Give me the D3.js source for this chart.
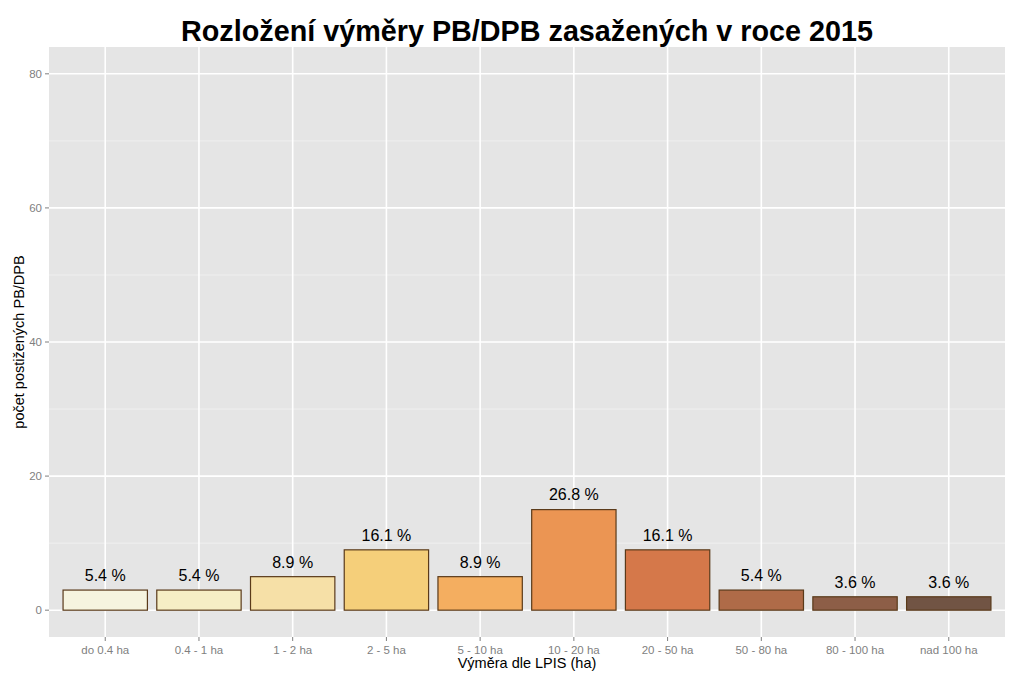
<!DOCTYPE html>
<html><head><meta charset="utf-8">
<script src="https://cdn.jsdelivr.net/npm/d3@7/dist/d3.min.js"></script>
<style>body{margin:0;background:#fff;} svg{display:block;font-family:"Liberation Sans",Arial,sans-serif;}</style>
</head><body>
<script>
const categories = ["do 0.4 ha","0.4 - 1 ha","1 - 2 ha","2 - 5 ha","5 - 10 ha","10 - 20 ha","20 - 50 ha","50 - 80 ha","80 - 100 ha","nad 100 ha"];
const counts = [3,3,5,9,5,15,9,3,2,2];
const percentLabels = ["5.4 %","5.4 %","8.9 %","16.1 %","8.9 %","26.8 %","16.1 %","5.4 %","3.6 %","3.6 %"];
const barColors = ["#F6F4DF","#F6EEC5","#F6E0A7","#F5CF7A","#F4AE60","#EB9553","#D5784A","#AF6B48","#8D5E47","#715444"];
const yTicks = [0,20,40,60,80];
const yMinor = [10,30,50,70];
const title = "Rozložení výměry PB/DPB zasažených v roce 2015";
const xTitle = "Výměra dle LPIS (ha)";
const yTitle = "počet postižených PB/DPB";

const W=1023,H=682;
const m={left:49,right:1005,top:47,bottom:637};
const svg=d3.select("body").append("svg").attr("width",W).attr("height",H);

// discrete scale with 0.6-unit expansion on each side, bar width 0.9 of step
const x=d3.scalePoint().domain(categories).range([m.left,m.right]).padding(0.6);
const step=x.step();
const bw=step*0.9;
const y=d3.scaleLinear().domain([-4,84]).range([m.bottom,m.top]);

svg.append("rect").attr("x",m.left).attr("y",m.top).attr("width",m.right-m.left).attr("height",m.bottom-m.top).attr("fill","#E5E5E5");
svg.selectAll(".ymin").data(yMinor).enter().append("line")
 .attr("x1",m.left).attr("x2",m.right).attr("y1",d=>y(d)).attr("y2",d=>y(d)).attr("stroke","#F2F2F2").attr("stroke-width",0.8);
svg.selectAll(".ymaj").data(yTicks).enter().append("line")
 .attr("x1",m.left).attr("x2",m.right).attr("y1",d=>y(d)).attr("y2",d=>y(d)).attr("stroke","#fff").attr("stroke-width",1.6);
svg.selectAll(".xmaj").data(categories).enter().append("line")
 .attr("x1",d=>x(d)).attr("x2",d=>x(d)).attr("y1",m.top).attr("y2",m.bottom).attr("stroke","#fff").attr("stroke-width",1.6);

svg.selectAll(".bar").data(categories).enter().append("rect")
 .attr("x",d=>x(d)-bw/2).attr("width",bw)
 .attr("y",(d,i)=>y(counts[i])).attr("height",(d,i)=>y(0)-y(counts[i]))
 .attr("fill",(d,i)=>barColors[i]).attr("stroke","#5A3A1A").attr("stroke-width",1.2);

svg.selectAll(".lab").data(categories).enter().append("text")
 .attr("x",d=>x(d)).attr("y",(d,i)=>y(counts[i]+2.2)).attr("dy","0.35em")
 .attr("text-anchor","middle").attr("font-size",16).attr("fill","#000").text((d,i)=>percentLabels[i]);

// y axis
const ya=svg.append("g");
ya.selectAll("line").data(yTicks).enter().append("line")
 .attr("x1",m.left-4).attr("x2",m.left).attr("y1",d=>y(d)).attr("y2",d=>y(d)).attr("stroke","#7F7F7F").attr("stroke-width",1);
ya.selectAll("text").data(yTicks).enter().append("text")
 .attr("x",m.left-7).attr("y",d=>y(d)).attr("dy","0.35em").attr("text-anchor","end")
 .attr("font-size",11.5).attr("fill","#7F7F7F").text(d=>d);
// x axis
const xa=svg.append("g");
xa.selectAll("line").data(categories).enter().append("line")
 .attr("x1",d=>x(d)).attr("x2",d=>x(d)).attr("y1",m.bottom).attr("y2",m.bottom+4).attr("stroke","#7F7F7F").attr("stroke-width",1);
xa.selectAll("text").data(categories).enter().append("text")
 .attr("x",d=>x(d)).attr("y",m.bottom+17).attr("text-anchor","middle")
 .attr("font-size",11.5).attr("fill","#7F7F7F").text(d=>d);

svg.append("text").attr("x",(m.left+m.right)/2).attr("y",668).attr("text-anchor","middle").attr("font-size",14.5).attr("fill","#000").text(xTitle);
svg.append("text").attr("transform",`translate(24,${(m.top+m.bottom)/2}) rotate(-90)`).attr("text-anchor","middle").attr("font-size",14.5).attr("fill","#000").text(yTitle);
svg.append("text").attr("x",(m.left+m.right)/2).attr("y",41).attr("text-anchor","middle").attr("font-size",29.5).attr("font-weight","bold").attr("fill","#000")
 .attr("textLength",692).attr("lengthAdjust","spacingAndGlyphs").text(title);
</script>
</body></html>
